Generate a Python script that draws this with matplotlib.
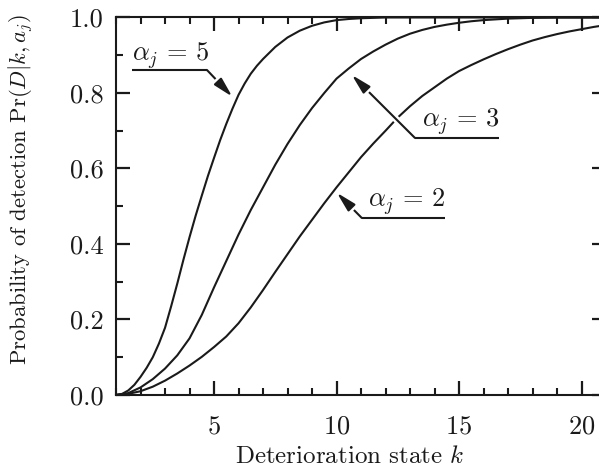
import numpy as np
import matplotlib
matplotlib.use("Agg")
import matplotlib.pyplot as plt
from matplotlib import patheffects

plt.rcParams["font.family"] = "cmr10"
plt.rcParams["mathtext.fontset"] = "cm"
plt.rcParams["axes.formatter.use_mathtext"] = True

# deterioration states and probability of detection, alpha_j = 5
k_a5 = [1.0, 1.25, 1.5, 1.75, 2.0, 2.25, 2.5, 2.75, 3.0, 3.25, 3.5, 3.75,
        4.0, 4.25, 4.5, 4.75, 5.0, 5.25, 5.5, 5.75, 6.0, 6.25, 6.5, 6.75,
        7.0, 7.5, 8.0, 8.5, 9.0, 9.5, 10.0, 10.5, 11.0, 11.5, 12.0, 21.0]
pd_a5 = [0.0, 0.003, 0.012, 0.027, 0.048, 0.072, 0.100, 0.136, 0.178, 0.235,
         0.295, 0.358, 0.418, 0.475, 0.528, 0.580, 0.628, 0.675, 0.718, 0.758,
         0.795, 0.825, 0.851, 0.872, 0.890, 0.922, 0.947, 0.965, 0.978, 0.987,
         0.993, 0.996, 0.998, 0.999, 1.0, 1.0]

# alpha_j = 3 and alpha_j = 2 share the half-step grid
k = [1.0, 1.5, 2.0, 2.5, 3.0, 3.5, 4.0, 4.5, 5.0, 5.5, 6.0, 6.5, 7.0, 7.5,
     8.0, 8.5, 9.0, 9.5, 10.0, 10.5, 11.0, 11.5, 12.0, 12.5, 13.0, 13.5,
     14.0, 14.5, 15.0, 15.5, 16.0, 16.5, 17.0, 17.5, 18.0, 18.5, 19.0,
     19.5, 20.0, 20.5, 21.0]
pd_a3 = [0.0, 0.005, 0.020, 0.042, 0.070, 0.105, 0.150, 0.212, 0.285, 0.355,
         0.425, 0.490, 0.550, 0.610, 0.665, 0.715, 0.760, 0.800, 0.838, 0.865,
         0.890, 0.910, 0.928, 0.944, 0.957, 0.967, 0.975, 0.981, 0.986, 0.990,
         0.993, 0.995, 0.997, 0.998, 0.999, 0.9995, 1.0, 1.0, 1.0, 1.0, 1.0]
pd_a2 = [0.0, 0.003, 0.010, 0.022, 0.038, 0.057, 0.078, 0.101, 0.127, 0.155,
         0.190, 0.232, 0.278, 0.326, 0.373, 0.420, 0.464, 0.508, 0.550, 0.590,
         0.630, 0.666, 0.700, 0.735, 0.765, 0.792, 0.815, 0.838, 0.858, 0.874,
         0.889, 0.903, 0.916, 0.928, 0.939, 0.948, 0.956, 0.963, 0.969, 0.975,
         0.980]

fig = plt.figure(figsize=(5.99, 4.70), dpi=100)
ax = fig.add_axes([0.1937, 0.1596, 0.818, 0.8032])

lc = "#1a1a1a"
ax.plot(k, pd_a2, color=lc, lw=1.5, zorder=1)
ax.plot(k, pd_a3, color=lc, lw=1.5, zorder=3)
ax.plot(k_a5, pd_a5, color=lc, lw=1.5, zorder=3)

ax.set_xlim(1, 21)
ax.set_ylim(0, 1)
ax.set_xticks([5, 10, 15, 20])
ax.set_xticks(np.arange(1, 22, 1), minor=True)
ax.set_yticks([0.0, 0.2, 0.4, 0.6, 0.8, 1.0])
ax.set_yticks(np.arange(0, 1.01, 0.1), minor=True)
ax.set_yticklabels(["0.0", "0.2", "0.4", "0.6", "0.8", "1.0"])

ax.tick_params(which="both", direction="in", top=True, right=True,
               labelsize=19, color=lc, labelcolor=lc)
ax.tick_params(which="major", length=10, width=1.6)
ax.tick_params(which="minor", length=5, width=1.5)
ax.tick_params(axis="y", pad=9)
ax.tick_params(axis="x", pad=14)
for s in ax.spines.values():
    s.set_linewidth(1.5)
    s.set_color(lc)

ax.set_xlabel("Deterioration state $k$", fontsize=18, color=lc)
ax.set_ylabel(r"Probability of detection $\mathrm{Pr}(D|k,a_j)$", fontsize=16.3,
              color=lc)
ax.xaxis.set_label_coords(0.478, -0.135)
ax.yaxis.set_label_coords(-0.163, 0.544)

# labels with underline and arrow pointing at each curve
labels = [
    # text, text pos, underline (x0, x1, y), corner, arrow tip
    (r"$\alpha_j \,=\, 5$", (1.65, 0.887), (1.65, 4.71, 0.861), (4.71, 0.861), (5.75, 0.79)),
    (r"$\alpha_j \,=\, 3$", (13.48, 0.71), (13.2, 16.63, 0.681), (13.2, 0.681), (10.62, 0.848)),
    (r"$\alpha_j \,=\, 2$", (11.29, 0.498), (11.03, 14.43, 0.469), (11.03, 0.469), (10.01, 0.536)),
]
halo = [patheffects.withStroke(linewidth=5, foreground="white")]
for txt, tpos, uline, corner, tip in labels:
    ax.text(tpos[0], tpos[1], txt, fontsize=19, color=lc, ha="left",
            va="baseline", zorder=4)
    ax.plot([uline[0], uline[1]], [uline[2], uline[2]], color=lc, lw=1.5,
            zorder=4, solid_capstyle="butt")
    ax.annotate("", xy=tip, xytext=corner, zorder=2,
                arrowprops=dict(arrowstyle="-|>,head_length=1.2,head_width=0.3",
                                color=lc, lw=1.5, shrinkA=0, shrinkB=0,
                                path_effects=halo))

fig.savefig("out.png", dpi=100)
